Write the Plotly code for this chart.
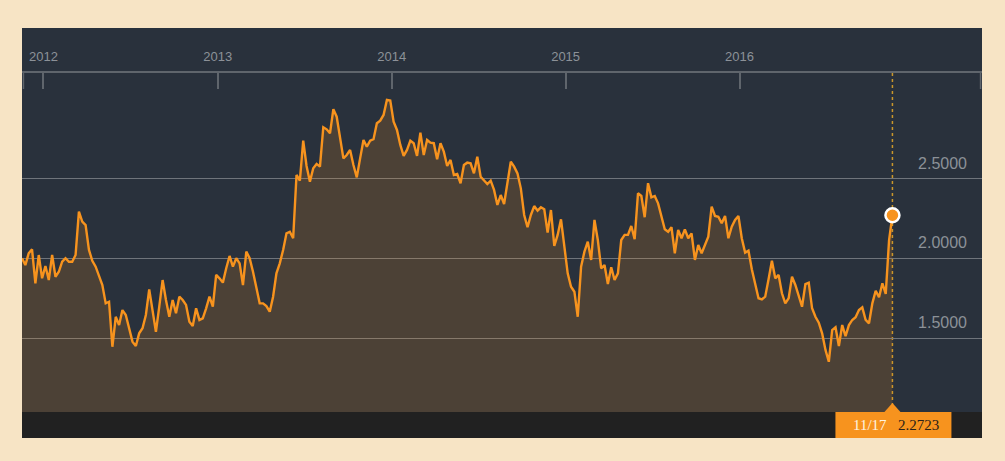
import pandas as pd
import plotly.graph_objects as go

# ---------------- data ----------------
START_DATE = "2011-11-17"
END_DATE = "2016-11-17"
VALUES = [
    2.003, 1.960, 2.034, 2.059, 1.846, 2.023, 1.877, 1.954, 1.866, 2.023,
    1.887, 1.918, 1.981, 2.003, 1.981, 1.981, 2.023, 2.295, 2.232, 2.211,
    2.055, 1.987, 1.950, 1.887, 1.835, 1.720, 1.730, 1.448, 1.636, 1.584,
    1.678, 1.647, 1.553, 1.480, 1.453, 1.532, 1.564, 1.647, 1.808, 1.678,
    1.542, 1.699, 1.866, 1.741, 1.636, 1.741, 1.658, 1.762, 1.741, 1.710,
    1.605, 1.578, 1.689, 1.616, 1.626, 1.689, 1.762, 1.699, 1.898, 1.877,
    1.850, 1.940, 2.017, 1.950, 2.003, 1.971, 1.835, 2.044, 2.003,
    1.918, 1.824, 1.720, 1.720, 1.703, 1.668, 1.762, 1.908, 1.971, 2.055,
    2.159, 2.169, 2.128, 2.525, 2.489, 2.740, 2.581, 2.483, 2.567, 2.594,
    2.577, 2.824, 2.811, 2.786, 2.937, 2.890, 2.765, 2.629, 2.650, 2.682,
    2.587, 2.510, 2.629, 2.744, 2.702, 2.740, 2.749, 2.849, 2.865, 2.901,
    2.995, 2.991, 2.859, 2.807, 2.713, 2.644, 2.682, 2.740, 2.724, 2.644,
    2.790, 2.650, 2.744, 2.727, 2.724, 2.623, 2.724, 2.671, 2.581, 2.619,
    2.525, 2.531, 2.473, 2.587, 2.602, 2.598, 2.535, 2.639, 2.514, 2.489,
    2.468, 2.489, 2.431,
    2.337, 2.399, 2.343, 2.475, 2.608,
    2.577, 2.535, 2.441, 2.274, 2.197, 2.274, 2.330, 2.301, 2.322, 2.310,
    2.163, 2.305, 2.080, 2.149, 2.247, 2.075, 1.908, 1.824, 1.793, 1.636,
    1.950, 2.044, 2.107, 1.992, 2.243, 2.117, 1.940, 1.960, 1.841, 1.946,
    1.866, 1.908, 2.117, 2.149, 2.149, 2.205, 2.122, 2.410, 2.393, 2.260,
    2.473, 2.385, 2.393, 2.347, 2.268, 2.184, 2.169, 2.197, 2.034, 2.180,
    2.128, 2.184, 2.128, 2.159, 1.992, 2.086, 2.034, 2.086, 2.138, 2.326,
    2.268, 2.263, 2.222, 2.268, 2.128, 2.201, 2.243, 2.268,
    2.128, 2.038, 2.050, 1.934, 1.835, 1.752, 1.745, 1.762, 1.871, 1.987,
    1.877, 1.898, 1.783, 1.720, 1.752, 1.887, 1.835, 1.766, 1.699, 1.841,
    1.850, 1.689, 1.636, 1.599, 1.532, 1.428, 1.354, 1.553, 1.570, 1.453,
    1.584, 1.515, 1.584, 1.616, 1.633, 1.678, 1.695, 1.616, 1.595, 1.720,
    1.799, 1.758, 1.846, 1.779, 2.117, 2.2723,
]
YEAR_TICKS = ["2012-01-01", "2013-01-01", "2014-01-01", "2015-01-01", "2016-01-01"]
YEAR_LABELS = ["2012", "2013", "2014", "2015", "2016"]
Y_TICKS = [1.5, 2.0, 2.5]
X_RANGE = ["2011-11-17", "2017-05-24"]
Y_RANGE = [0.876, 3.164]

dates = pd.date_range(START_DATE, END_DATE, periods=len(VALUES))
last_date = dates[-1]
last_val = VALUES[-1]

# ---------------- style ----------------
BEIGE = "#f7e4c5"
NAVY = "#29313c"
ORANGE = "#f7931e"
FILL = "rgba(247,147,30,0.17)"
BAR = "#212121"
GRID = "#6f747b"
AXIS = "#5f656c"
LABEL = "#8c9198"

W, H = 1005, 461
ML, MR, MT, MB = 22, 23, 28, 23
PH = H - MT - MB
DOMAIN_TOP = (H - MB - 73) / PH
BAR_TOP = (H - MB - 412) / PH

fig = go.Figure()
fig.add_trace(go.Scatter(
    x=dates, y=VALUES, mode="lines",
    line=dict(color=ORANGE, width=2.4),
    fill="tozeroy", fillcolor=FILL, hoverinfo="skip",
))
fig.add_trace(go.Scatter(
    x=[last_date], y=[last_val], mode="markers",
    marker=dict(size=14, color=ORANGE, line=dict(color="white", width=2.5)),
    hoverinfo="skip",
))

shapes = [
    dict(type="rect", xref="paper", yref="paper", x0=0, x1=1, y0=0, y1=1,
         fillcolor=NAVY, line=dict(width=0), layer="below"),
    dict(type="line", xref="x", yref="paper", x0=last_date, x1=last_date,
         y0=BAR_TOP, y1=DOMAIN_TOP, line=dict(color="#c9962b", width=1.5, dash="dot"),
         layer="below"),
    dict(type="rect", xref="paper", yref="paper", x0=0, x1=1, y0=0, y1=BAR_TOP,
         fillcolor=BAR, line=dict(width=0), layer="above"),
    dict(type="rect", xref="x", xsizemode="pixel", xanchor=last_date, x0=-57, x1=59,
         yref="paper", y0=0, y1=BAR_TOP, fillcolor=ORANGE, line=dict(width=0),
         layer="above"),
    dict(type="path", xref="x", xsizemode="pixel", xanchor=last_date,
         yref="paper", ysizemode="pixel", yanchor=BAR_TOP,
         path="M -8,0 L 8,0 L 0,9 Z", fillcolor=ORANGE, line=dict(width=0),
         layer="above"),
    dict(type="line", xref="paper", yref="paper", ysizemode="pixel", yanchor=DOMAIN_TOP,
         x0=0.0015, x1=0.0015, y0=-16, y1=0, line=dict(color=AXIS, width=1.5)),
    dict(type="line", xref="paper", yref="paper", ysizemode="pixel", yanchor=DOMAIN_TOP,
         x0=0.9985, x1=0.9985, y0=-16, y1=0, line=dict(color=AXIS, width=1.5)),
]

label_text = (
    f"<span style='color:#fff3e0'>{last_date:%m/%d}</span>&nbsp;&nbsp; "
    f"<span style='color:#2b2118'>{last_val:.4f}</span>"
)

fig.update_layout(
    width=W, height=H, autosize=False,
    margin=dict(l=ML, r=MR, t=MT, b=MB, pad=0),
    paper_bgcolor=BEIGE, plot_bgcolor=NAVY,
    showlegend=False, hovermode=False,
    shapes=shapes,
    annotations=[dict(
        x=last_date, xref="x", y=BAR_TOP / 2, yref="paper",
        text=label_text, showarrow=False, xshift=4,
        font=dict(family="Liberation Serif", size=15),
        xanchor="center", yanchor="middle",
    )],
    xaxis=dict(
        type="date", range=X_RANGE, side="top",
        tickvals=YEAR_TICKS, ticktext=YEAR_LABELS,
        ticks="inside", ticklen=16, tickwidth=1.5, tickcolor=AXIS,
        showline=True, linecolor=AXIS, linewidth=2,
        showgrid=False, zeroline=False,
        tickfont=dict(family="Liberation Sans", size=13, color=LABEL),
        ticklabelstandoff=5,
    ),
    yaxis=dict(
        domain=[0, DOMAIN_TOP], range=Y_RANGE, side="right",
        tickvals=Y_TICKS, tickformat=".4f",
        ticklabelposition="inside", ticks="",
        showgrid=True, gridcolor=GRID, gridwidth=1,
        zeroline=False, showline=False,
        tickfont=dict(family="Liberation Sans", size=16, color=LABEL),
        ticklabelshift=-16, ticklabelstandoff=12,
    ),
)

fig.write_html("out.html")
